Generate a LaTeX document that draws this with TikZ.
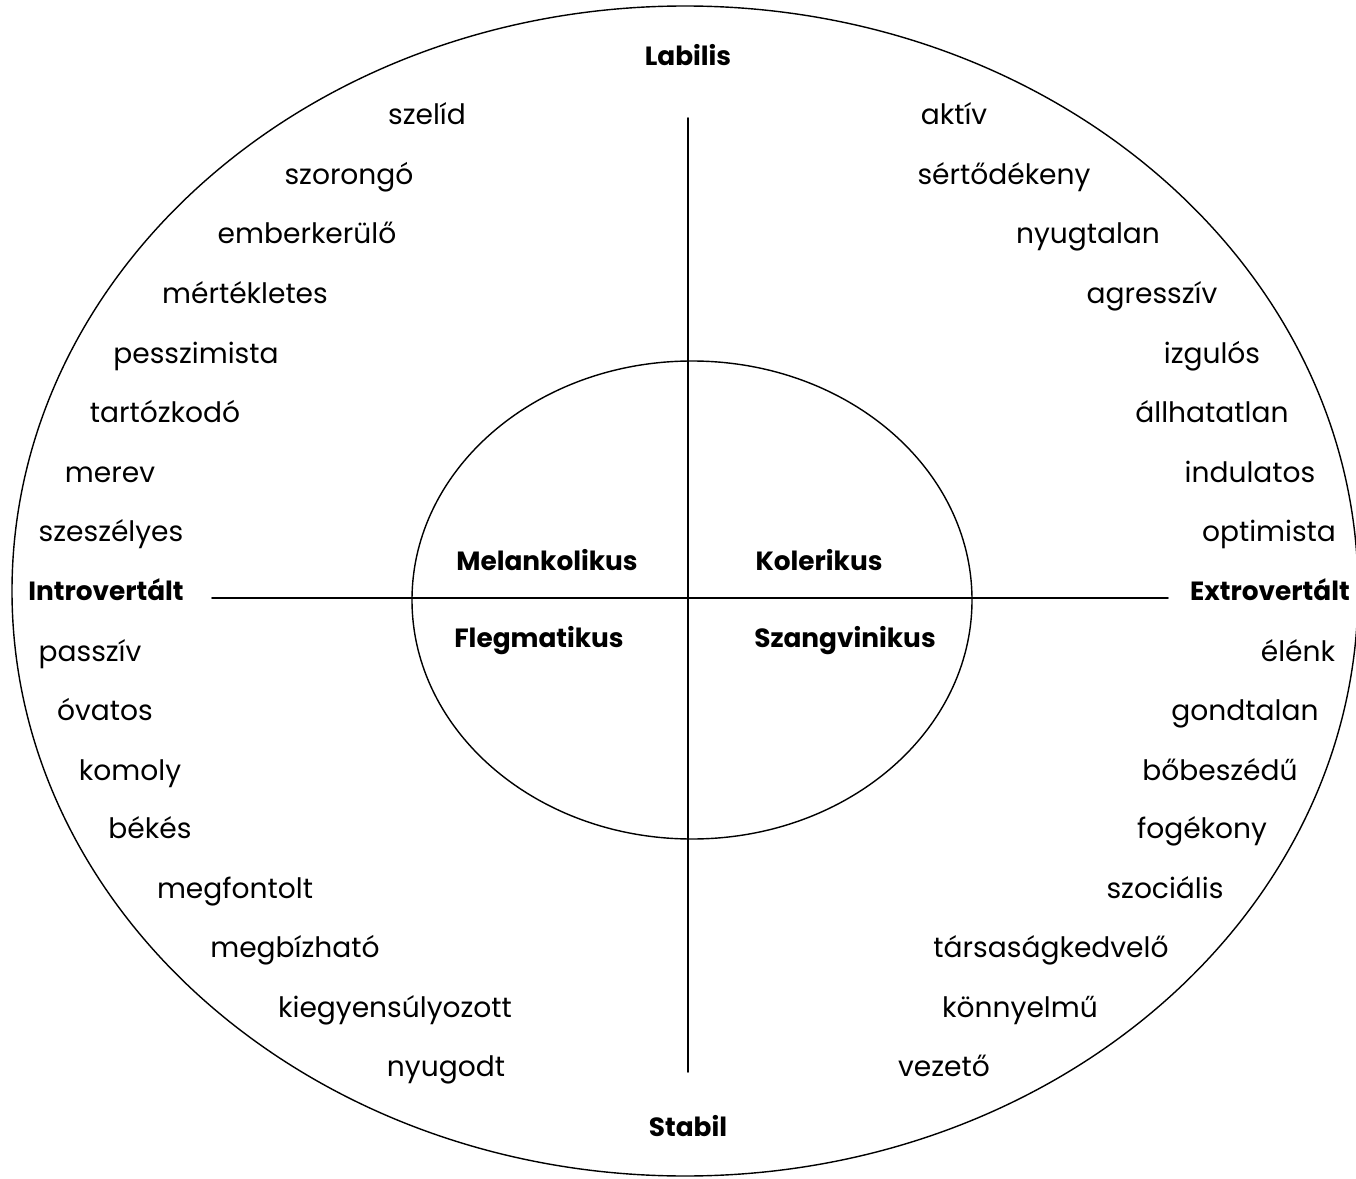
\documentclass[tikz,border=0pt]{standalone}
\usepackage{fontspec}
\setmainfont{Poppins}
\begin{document}
\begin{tikzpicture}[line cap=round,line join=round,x=0.02cm,y=-0.02cm,
  trait/.style={anchor=base,font=\fontsize{16}{18}\selectfont},
  pole/.style={anchor=base,font=\bfseries\fontsize{15}{17}\selectfont}]
 		\useasboundingbox (0,0) rectangle (1356,1179);
 		% circles
 		\draw [line width=0.8pt] (685,591) ellipse ({673*0.02cm} and {585*0.02cm});
 		\draw [line width=0.8pt] (692,600) ellipse ({280*0.02cm} and {239*0.02cm});
 		% axes
 		\coordinate (top) at (688,118);
 		\coordinate (bottom) at (688,1072);
 		\coordinate (left) at (212,598);
 		\coordinate (right) at (1168,598);
 		\draw [line width=1pt] (top)-- (bottom);
 		\draw [line width=1pt] (left)-- (right);
 		% poles
 		\node[pole] (labilis) at (688,66) {Labilis};
 		\node[pole] (stabil) at (688,1136) {Stabil};
 		\node[pole] (intro) at (106,600) {Introvertált};
 		\node[pole] (extro) at (1270,600) {Extrovertált};
 		% temperaments
 		\node[pole] (melan) at (547,570) {Melankolikus};
 		\node[pole] (koler) at (819,570) {Kolerikus};
 		\node[pole] (flegma) at (539,647) {Flegmatikus};
 		\node[pole] (szangv) at (845,647) {Szangvinikus};
 		% left side
 		\node[trait] (szelid) at (427,125) {szelíd};
 		\node[trait] (szorongo) at (349,185) {szorongó};
 		\node[trait] (emberkerulo) at (307,244) {emberkerülő};
 		\node[trait] (mertekletes) at (245,304) {mértékletes};
 		\node[trait] (pesszimista) at (196,363) {pesszimista};
 		\node[trait] (tartozkodo) at (165,422) {tartózkodó};
 		\node[trait] (merev) at (110,482) {merev};
 		\node[trait] (szeszelyes) at (111,541) {szeszélyes};
 		\node[trait] (passziv) at (90,661) {passzív};
 		\node[trait] (ovatos) at (105,720) {óvatos};
 		\node[trait] (komoly) at (130,780) {komoly};
 		\node[trait] (bekes) at (150,838) {békés};
 		\node[trait] (megfontolt) at (235,898) {megfontolt};
 		\node[trait] (megbizhato) at (295,957) {megbízható};
 		\node[trait] (kiegyensulyozott) at (395,1017) {kiegyensúlyozott};
 		\node[trait] (nyugodt) at (446,1076) {nyugodt};
 		% right side
 		\node[trait] (aktiv) at (954,125) {aktív};
 		\node[trait] (sertodekeny) at (1004,185) {sértődékeny};
 		\node[trait] (nyugtalan) at (1088,244) {nyugtalan};
 		\node[trait] (agressziv) at (1152,304) {agresszív};
 		\node[trait] (izgulos) at (1212,363) {izgulós};
 		\node[trait] (allhatatlan) at (1212,422) {állhatatlan};
 		\node[trait] (indulatos) at (1250,482) {indulatos};
 		\node[trait] (optimista) at (1269,541) {optimista};
 		\node[trait] (elenk) at (1298,661) {élénk};
 		\node[trait] (gondtalan) at (1245,720) {gondtalan};
 		\node[trait] (bobeszedu) at (1220,780) {bőbeszédű};
 		\node[trait] (fogekony) at (1202,838) {fogékony};
 		\node[trait] (szocialis) at (1165,898) {szociális};
 		\node[trait] (tarsasagkedvelo) at (1051,957) {társaságkedvelő};
 		\node[trait] (konnyelmu) at (1020,1017) {könnyelmű};
 		\node[trait] (vezeto) at (944,1076) {vezető};
 	\end{tikzpicture}
\end{document}
